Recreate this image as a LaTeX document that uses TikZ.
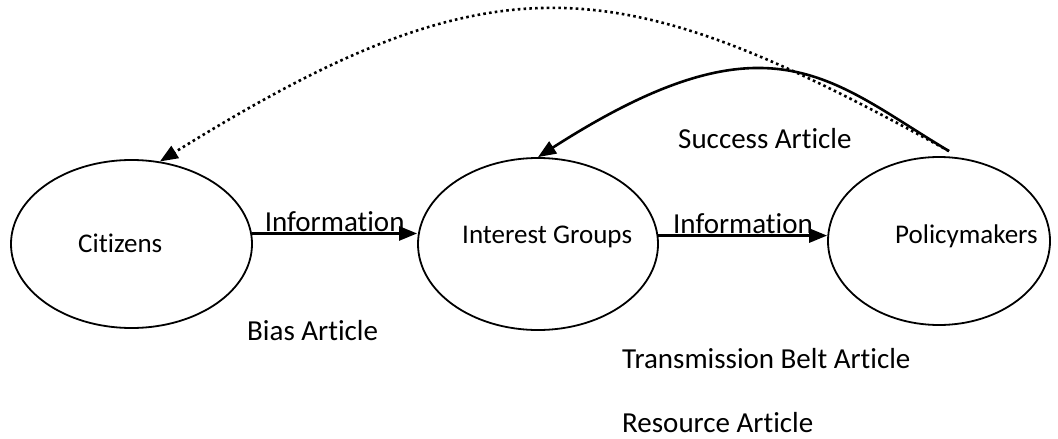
\documentclass[tikz,border=0pt]{standalone}
\usepackage{fontspec}
\setmainfont{Carlito}[RawFeature=-liga]
\usetikzlibrary{shapes.geometric,arrows.meta}
\begin{document}
\begin{tikzpicture}[x=1pt,y=-1pt,
  oval/.style={draw,ellipse,line width=1.8pt,inner sep=0,minimum width=#1},
  txt/.style={anchor=base west,inner sep=0,font=\fontsize{29}{33}\selectfont},
  ntxt/.style={anchor=base west,inner sep=0,font=\fontsize{27}{31}\selectfont},
  arr/.style={line width=2.6pt,-{Triangle[length=18pt,width=14pt]}},
  dotarr/.style={line width=2.6pt,dash pattern=on 2.6pt off 3.2pt,-{Triangle[length=18pt,width=14pt]}}]
\useasboundingbox (0,0) rectangle (1058,439);
\node[oval=241pt,minimum height=168pt] (cit) at (131.5,244) {};
\node[oval=240pt,minimum height=172pt] (ig) at (538,244) {};
\node[oval=222pt,minimum height=168pt] (pm) at (939,241) {};
\node[ntxt] (tcit) at (78,252) {Citizens};
\node[ntxt] (tig) at (462,243) {Interest Groups};
\node[ntxt] (tpm) at (895,243) {Policymakers};
\draw[arr] (cit.5) -- (cit.5 -| ig.west) node[txt,pos=0.07,yshift=2pt] (inf1) {Information};
\draw[arr] (ig.4) -- (ig.4 -| pm.west) node[txt,pos=0.08,yshift=2pt] (inf2) {Information};
\coordinate (ps) at ([xshift=10pt,yshift=5pt]pm.north);
\draw[arr] (ps) .. controls (830,80) and (770,8) .. (ig.north);
\draw[dotarr] (ps) .. controls (620,-30) and (500,-50) .. (cit.71);
\node[txt] (succ) at (678,148) {Success Article};
\node[txt] (bias) at (247,340) {Bias Article};
\node[txt] (trans) at (622,368) {Transmission Belt Article};
\node[txt] (res) at (622,432) {Resource Article};
\end{tikzpicture}
\end{document}
